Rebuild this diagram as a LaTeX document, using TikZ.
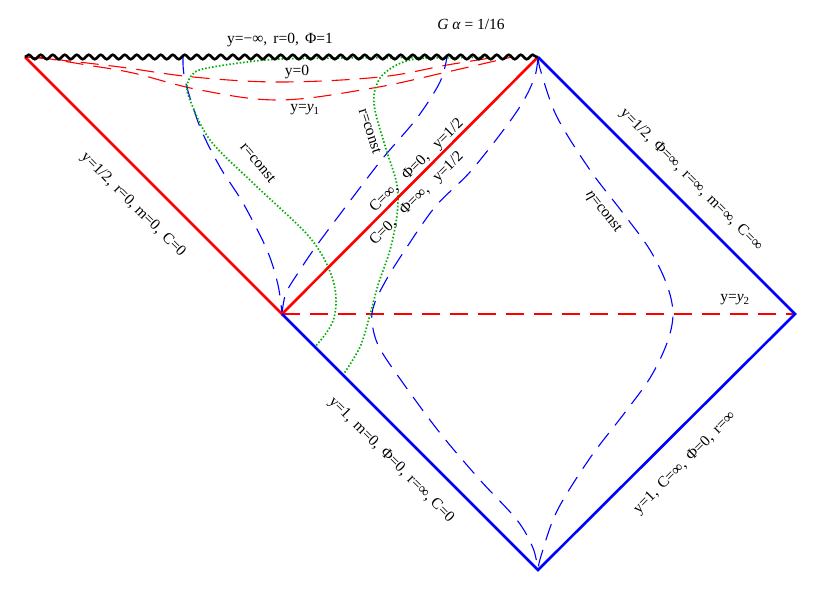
\documentclass[tikz,border=0pt]{standalone}
\usepackage{fontspec}
\setmainfont{Liberation Serif}
\usetikzlibrary{decorations.pathmorphing}
\definecolor{dgreen}{RGB}{0,175,0}
\newcommand{\gp}{\hspace{0.4em}}
\newcommand{\gq}{\hspace{0.75em}}
\begin{document}
\begin{tikzpicture}[x=1pt,y=-1pt,
  lbl/.style={font=\fontsize{15.5}{17}\selectfont, inner sep=0pt},
  thickred/.style={draw=red, line width=2.6pt},
  thickblue/.style={draw=blue, line width=2.6pt},
  reddash/.style={draw=red, line width=1.1pt, dash pattern=on 18pt off 10pt},
  bluedash/.style={draw=blue, line width=1.1pt, dash pattern=on 17pt off 10pt},
  greendot/.style={draw=dgreen, line width=1.7pt, dash pattern=on 1.5pt off 2pt},
  wavy/.style={draw=black, line width=2.6pt, decorate, decoration={snake, segment length=12pt, amplitude=2.2pt}}
]
\useasboundingbox (0,0) rectangle (822,597);
\coordinate (L) at (25,57);
\coordinate (T) at (538,57);
\coordinate (M) at (282,314);
\coordinate (R) at (795,314);
\coordinate (B) at (538,570);
\coordinate (y0s) at (25,57);
\coordinate (y0e) at (497,57);
\coordinate (y1s) at (38,57);
\coordinate (y1e) at (512,57);
\coordinate (b1s) at (183,57);
\coordinate (b2e) at (447,57);
\coordinate (g1s) at (430,57.5);
\coordinate (g2s) at (487,57.5);

% red dashed constant-y curves
\draw[reddash] plot[smooth, tension=0.6] coordinates {(y0s) (60,60) (120,67) (193,77) (280,82) (380,77) (447,65) (y0e)};
\draw[reddash] plot[smooth, tension=0.6] coordinates {(y1s) (87,65) (133,73) (200,90) (280,100) (373,88) (447,72) (y1e)};
\draw[reddash] (M) -- (R);

% blue dashed curves
\draw[bluedash] plot[smooth, tension=0.55] coordinates {(b1s) (185,80) (200,127) (220,167) (243,203) (267,250) (278,285) (M)};
\draw[bluedash] plot[smooth, tension=0.55] coordinates {(M) (286,293) (300,270) (317,245) (353,197) (383,158) (417,118) (440,82) (b2e)};
\draw[bluedash] plot[smooth, tension=0.55] coordinates {(T) (535,76) (524,100) (505,128) (470,172) (435,207) (403,253) (385,282) (374,305) (372,322) (379,347) (403,383) (440,433) (480,480) (517,520) (533,548) (B)};
\draw[bluedash] plot[smooth, tension=0.55] coordinates {(T) (541,72) (557,117) (590,170) (623,213) (650,250) (667,285) (673,314) (667,343) (650,378) (623,415) (590,458) (557,511) (541,556) (B)};

% green dotted r=const curves
\draw[greendot] plot[smooth, tension=0.55] coordinates {(g1s) (340,58) (280,59) (247,62) (213,67) (195,72) (187,85) (190,100) (210,140) (253,183) (303,230) (322,255) (333,280) (336,300) (334,318) (327,332) (315,347)};
\draw[greendot] plot[smooth, tension=0.55] coordinates {(g2s) (433,58) (410,60) (393,67) (380,78) (374,95) (376,115) (387,152) (397,185) (397,215) (390,250) (378,285) (370,315) (360,347) (343,375)};

% thick boundaries
\draw[thickred] (L) -- (M) -- (T);
\draw[thickblue] (M) -- (B) -- (R) -- (T);
\draw[wavy] (L) -- (T);

% labels
\node[lbl] (galpha) at (471,24) {\textit{G} \textit{α} = 1/16};
\node[lbl] (top) at (280,40) {y=−∞,\gp r=0,\gp Φ=1};
\node[lbl] (ly0) at (297,72) {y=0};
\node[lbl] (ly1) at (305,110) {y=\textit{y}\textsubscript{1}};
\node[lbl] (ly2) at (735,300) {y=\textit{y}\textsubscript{2}};
\node[lbl, rotate=-45] (lleft) at (133,205) {y=1/2,\gp r=0, m=0,\gp C=0};
\node[lbl, rotate=-45] (lur) at (691,180) {y=1/2,\gp Φ=∞,\gp r=∞,\gp m=∞,\gp C=∞};
\node[lbl, rotate=-45] (lmb) at (391,460) {y=1,\gp m=0,\gp Φ=0,\gp r=∞, C=0};
\node[lbl, rotate=45] (lbr) at (685,463) {y=1,\gp C=∞,\gp Φ=0,\gp r=∞};
\node[lbl, rotate=45] (lra) at (417,166) {C=∞,\gq Φ=0,\gq y=1/2};
\node[lbl, rotate=45] (lrb) at (417,199) {C=0,\gq Φ=∞,\gq y=1/2};
\node[lbl, rotate=-50] (rc1) at (258,163) {r=const};
\node[lbl, rotate=-72] (rc2) at (370,131) {r=const};
\node[lbl, rotate=-52] (eta) at (603,212) {\textit{η}=const};
\end{tikzpicture}
\end{document}
